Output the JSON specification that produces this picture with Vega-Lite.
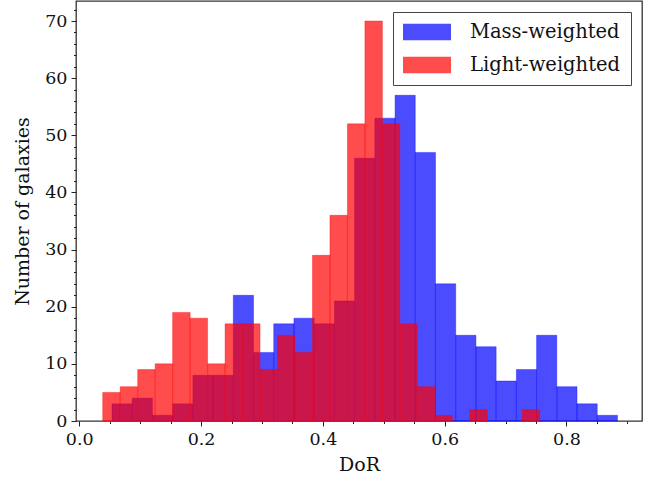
{
  "$schema": "https://vega.github.io/schema/vega-lite/v6.json",
  "width": 566,
  "height": 420,
  "autosize": {"type": "none"},
  "padding": {"left": 76, "top": 1, "right": 15, "bottom": 62},
  "background": "white",
  "config": {
    "view": {"stroke": "#333333", "strokeWidth": 1.3},
    "font": "DejaVu Serif",
    "axis": {
      "grid": false,
      "domain": false,
      "tickColor": "#222222",
      "tickWidth": 1,
      "labelColor": "#111111",
      "titleColor": "#111111",
      "labelFont": "DejaVu Serif",
      "titleFont": "DejaVu Serif",
      "labelFontSize": 17.5,
      "titleFontSize": 19,
      "titleFontWeight": "normal"
    }
  },
  "datasets": {
    "hist": [
      {"series": "Mass-weighted", "bin_start": 0.0537, "bin_end": 0.0869, "count": 3},
      {"series": "Mass-weighted", "bin_start": 0.0869, "bin_end": 0.1201, "count": 4},
      {"series": "Mass-weighted", "bin_start": 0.1201, "bin_end": 0.1533, "count": 1},
      {"series": "Mass-weighted", "bin_start": 0.1533, "bin_end": 0.1865, "count": 3},
      {"series": "Mass-weighted", "bin_start": 0.1865, "bin_end": 0.2197, "count": 8},
      {"series": "Mass-weighted", "bin_start": 0.2197, "bin_end": 0.2529, "count": 8},
      {"series": "Mass-weighted", "bin_start": 0.2529, "bin_end": 0.2861, "count": 22},
      {"series": "Mass-weighted", "bin_start": 0.2861, "bin_end": 0.3193, "count": 12},
      {"series": "Mass-weighted", "bin_start": 0.3193, "bin_end": 0.3525, "count": 17},
      {"series": "Mass-weighted", "bin_start": 0.3525, "bin_end": 0.3857, "count": 18},
      {"series": "Mass-weighted", "bin_start": 0.3857, "bin_end": 0.4189, "count": 17},
      {"series": "Mass-weighted", "bin_start": 0.4189, "bin_end": 0.4521, "count": 21},
      {"series": "Mass-weighted", "bin_start": 0.4521, "bin_end": 0.4853, "count": 46},
      {"series": "Mass-weighted", "bin_start": 0.4853, "bin_end": 0.5185, "count": 53},
      {"series": "Mass-weighted", "bin_start": 0.5185, "bin_end": 0.5517, "count": 57},
      {"series": "Mass-weighted", "bin_start": 0.5517, "bin_end": 0.5849, "count": 47},
      {"series": "Mass-weighted", "bin_start": 0.5849, "bin_end": 0.6181, "count": 24},
      {"series": "Mass-weighted", "bin_start": 0.6181, "bin_end": 0.6513, "count": 15},
      {"series": "Mass-weighted", "bin_start": 0.6513, "bin_end": 0.6845, "count": 13},
      {"series": "Mass-weighted", "bin_start": 0.6845, "bin_end": 0.7177, "count": 7},
      {"series": "Mass-weighted", "bin_start": 0.7177, "bin_end": 0.7509, "count": 9},
      {"series": "Mass-weighted", "bin_start": 0.7509, "bin_end": 0.7841, "count": 15},
      {"series": "Mass-weighted", "bin_start": 0.7841, "bin_end": 0.8173, "count": 6},
      {"series": "Mass-weighted", "bin_start": 0.8173, "bin_end": 0.8505, "count": 3},
      {"series": "Mass-weighted", "bin_start": 0.8505, "bin_end": 0.8837, "count": 1},
      {"series": "Light-weighted", "bin_start": 0.0385, "bin_end": 0.0672, "count": 5},
      {"series": "Light-weighted", "bin_start": 0.0672, "bin_end": 0.0959, "count": 6},
      {"series": "Light-weighted", "bin_start": 0.0959, "bin_end": 0.1246, "count": 9},
      {"series": "Light-weighted", "bin_start": 0.1246, "bin_end": 0.1533, "count": 10},
      {"series": "Light-weighted", "bin_start": 0.1533, "bin_end": 0.1820, "count": 19},
      {"series": "Light-weighted", "bin_start": 0.1820, "bin_end": 0.2107, "count": 18},
      {"series": "Light-weighted", "bin_start": 0.2107, "bin_end": 0.2394, "count": 10},
      {"series": "Light-weighted", "bin_start": 0.2394, "bin_end": 0.2681, "count": 17},
      {"series": "Light-weighted", "bin_start": 0.2681, "bin_end": 0.2968, "count": 17},
      {"series": "Light-weighted", "bin_start": 0.2968, "bin_end": 0.3255, "count": 9},
      {"series": "Light-weighted", "bin_start": 0.3255, "bin_end": 0.3542, "count": 15},
      {"series": "Light-weighted", "bin_start": 0.3542, "bin_end": 0.3829, "count": 12},
      {"series": "Light-weighted", "bin_start": 0.3829, "bin_end": 0.4116, "count": 29},
      {"series": "Light-weighted", "bin_start": 0.4116, "bin_end": 0.4403, "count": 36},
      {"series": "Light-weighted", "bin_start": 0.4403, "bin_end": 0.4690, "count": 52},
      {"series": "Light-weighted", "bin_start": 0.4690, "bin_end": 0.4977, "count": 70},
      {"series": "Light-weighted", "bin_start": 0.4977, "bin_end": 0.5264, "count": 52},
      {"series": "Light-weighted", "bin_start": 0.5264, "bin_end": 0.5551, "count": 17},
      {"series": "Light-weighted", "bin_start": 0.5551, "bin_end": 0.5838, "count": 6},
      {"series": "Light-weighted", "bin_start": 0.5838, "bin_end": 0.6125, "count": 1},
      {"series": "Light-weighted", "bin_start": 0.6125, "bin_end": 0.6412, "count": 0},
      {"series": "Light-weighted", "bin_start": 0.6412, "bin_end": 0.6699, "count": 2},
      {"series": "Light-weighted", "bin_start": 0.6699, "bin_end": 0.6986, "count": 0},
      {"series": "Light-weighted", "bin_start": 0.6986, "bin_end": 0.7273, "count": 0},
      {"series": "Light-weighted", "bin_start": 0.7273, "bin_end": 0.7560, "count": 2}
    ]
  },
  "data": {"name": "hist"},
  "layer": [
    {
      "transform": [{"filter": "datum.count > 0"}],
      "mark": {"type": "bar", "fillOpacity": 0.7, "strokeOpacity": 0.45, "strokeWidth": 0.8},
      "encoding": {
        "x": {
          "field": "bin_start",
          "type": "quantitative",
          "scale": {"domain": [-0.0054, 0.924], "nice": false, "zero": false},
          "axis": {
            "values": [0, 0.2, 0.4, 0.6, 0.8],
            "format": ".1f",
            "tickSize": 5,
            "labelPadding": 4,
            "title": "DoR",
            "titlePadding": 8,
            "orient": "bottom"
          }
        },
        "x2": {"field": "bin_end"},
        "y": {
          "field": "count",
          "type": "quantitative",
          "stack": null,
          "scale": {"domain": [0, 73.5], "nice": false},
          "axis": {
            "values": [0, 10, 20, 30, 40, 50, 60, 70],
            "format": "d",
            "tickSize": 5,
            "labelPadding": 4,
            "title": "Number of galaxies",
            "titlePadding": 12,
            "orient": "left"
          }
        },
        "y2": {"datum": 0},
        "color": {
          "field": "series",
          "type": "nominal",
          "scale": {"domain": ["Mass-weighted", "Light-weighted"], "range": ["#0000ff", "#ff0000"]},
          "legend": {
            "title": null,
            "orient": "none",
            "legendX": 317,
            "legendY": 11,
            "strokeColor": "#444444",
            "fillColor": "white",
            "padding": 10,
            "labelFont": "DejaVu Serif",
            "labelFontSize": 19.5,
            "labelColor": "#111111",
            "labelOffset": 47,
            "symbolType": "M-1,-0.83H3.8V0.83H-1Z",
            "symbolSize": 400,
            "symbolOpacity": 0.7,
            "symbolStrokeWidth": 0,
            "rowPadding": 13
          }
        },
        "stroke": {
          "field": "series",
          "type": "nominal",
          "scale": {"domain": ["Mass-weighted", "Light-weighted"], "range": ["#0000ff", "#ff0000"]},
          "legend": null
        }
      }
    },
    {
      "mark": {"type": "bar", "opacity": 0},
      "encoding": {
        "x": {
          "field": "bin_start",
          "type": "quantitative",
          "axis": {
            "values": [0.05, 0.1, 0.15, 0.25, 0.3, 0.35, 0.45, 0.5, 0.55, 0.65, 0.7, 0.75, 0.85, 0.9],
            "labels": false,
            "tickSize": 2.5,
            "title": null,
            "orient": "bottom"
          }
        },
        "x2": {"field": "bin_end"},
        "y": {
          "field": "count",
          "type": "quantitative",
          "stack": null,
          "axis": {
            "values": [2, 4, 6, 8, 12, 14, 16, 18, 22, 24, 26, 28, 32, 34, 36, 38, 42, 44, 46, 48, 52, 54, 56, 58, 62, 64, 66, 68, 72],
            "labels": false,
            "tickSize": 2.5,
            "title": null,
            "orient": "left"
          }
        },
        "y2": {"datum": 0}
      }
    }
  ],
  "resolve": {"axis": {"x": "independent", "y": "independent"}}
}
